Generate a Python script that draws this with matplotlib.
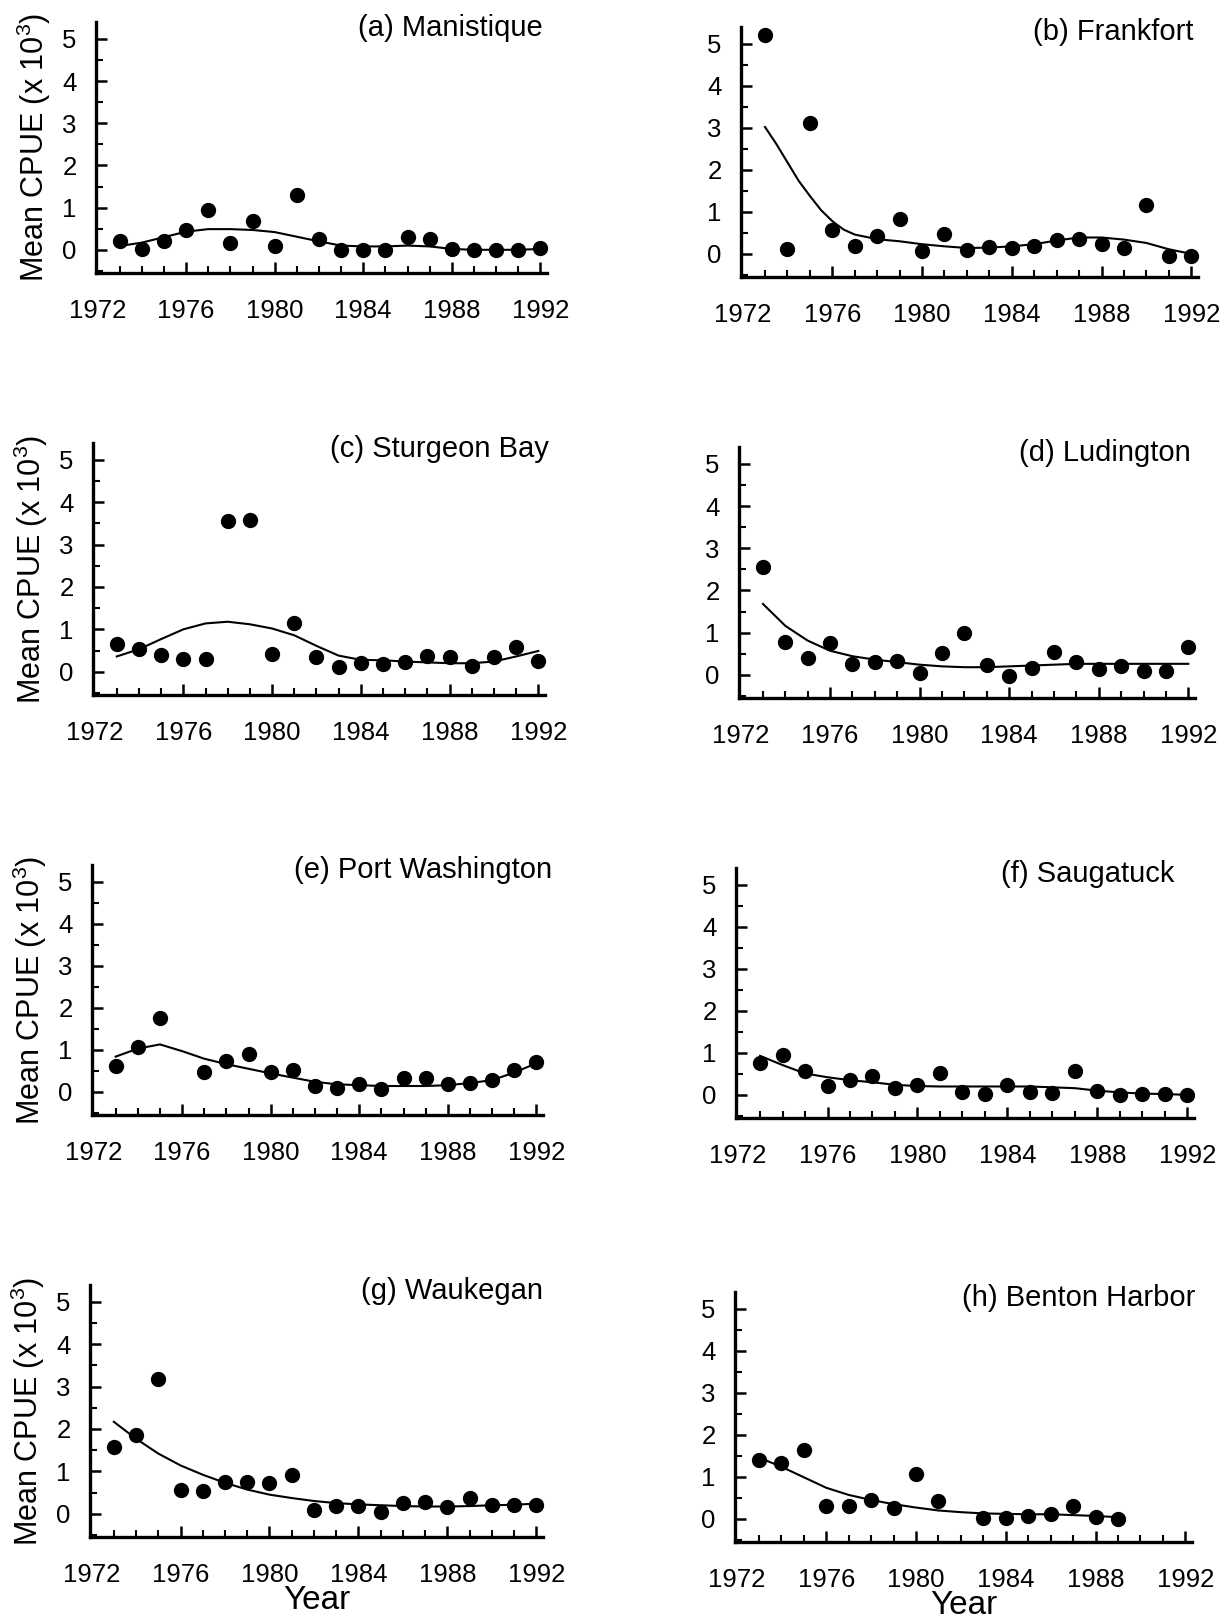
import matplotlib
matplotlib.use("Agg")
import matplotlib.pyplot as plt
from matplotlib.ticker import MultipleLocator, FixedLocator

plt.rcParams['font.family'] = ['Liberation Sans', 'DejaVu Sans']
plt.rcParams['mathtext.fontset'] = 'custom'
plt.rcParams['mathtext.rm'] = 'Liberation Sans'
plt.rcParams['mathtext.it'] = 'Liberation Sans:italic'
plt.rcParams['mathtext.bf'] = 'Liberation Sans:bold'

years = list(range(1973, 1993))

# ---- observed mean CPUE (x 10^3) ----
a_pts = [0.22, 0.02, 0.20, 0.47, 0.94, 0.16, 0.69, 0.09, 1.31, 0.25,
         0.00, 0.00, 0.00, 0.30, 0.25, 0.03, 0.00, 0.00, 0.00, 0.04]
b_pts = [5.20, 0.11, 3.11, 0.56, 0.18, 0.43, 0.82, 0.06, 0.47, 0.10,
         0.16, 0.14, 0.18, 0.34, 0.35, 0.23, 0.15, 1.16, -0.05, -0.04]
c_pts = [0.65, 0.53, 0.40, 0.30, 0.30, 3.55, 3.59, 0.41, 1.16, 0.34,
         0.12, 0.20, 0.18, 0.22, 0.38, 0.34, 0.14, 0.34, 0.59, 0.26]
d_pts = [2.55, 0.77, 0.39, 0.75, 0.26, 0.31, 0.32, 0.04, 0.51, 1.00,
         0.24, -0.02, 0.16, 0.55, 0.31, 0.13, 0.22, 0.10, 0.09, 0.65]
e_years = [1973, 1974, 1975, 1977, 1978, 1979, 1980, 1981, 1982, 1983,
           1984, 1985, 1986, 1987, 1988, 1989, 1990, 1991, 1992]
e_pts = [0.62, 1.07, 1.75, 0.47, 0.73, 0.89, 0.47, 0.51, 0.14, 0.09,
         0.18, 0.08, 0.34, 0.32, 0.18, 0.22, 0.28, 0.52, 0.71]
f_pts = [0.77, 0.96, 0.57, 0.22, 0.35, 0.46, 0.16, 0.24, 0.53, 0.08,
         0.02, 0.24, 0.08, 0.04, 0.57, 0.09, 0.00, 0.02, 0.02, 0.00]
g_pts = [1.57, 1.85, 3.17, 0.55, 0.53, 0.75, 0.76, 0.73, 0.91, 0.09,
         0.18, 0.18, 0.04, 0.25, 0.28, 0.16, 0.37, 0.20, 0.20, 0.20]
h_years = [1973, 1974, 1975, 1976, 1977, 1978, 1979, 1980, 1981,
           1983, 1984, 1985, 1986, 1987, 1988, 1989]
h_pts = [1.40, 1.32, 1.63, 0.31, 0.31, 0.45, 0.27, 1.08, 0.43,
         0.02, 0.02, 0.08, 0.11, 0.31, 0.04, 0.00]

# ---- smoothed trend curves ----
a_fit = [0.09, 0.17, 0.30, 0.43, 0.49, 0.49, 0.47, 0.42, 0.31, 0.20,
         0.10, 0.08, 0.08, 0.10, 0.08, 0.02, 0.00, 0.00, 0.00, 0.02]
b_fit_years = [1973, 1973.5, 1974, 1974.5, 1975, 1975.5, 1976, 1976.5, 1977,
               1978, 1979, 1980, 1981, 1982, 1983, 1984, 1985, 1986, 1987,
               1988, 1989, 1990, 1991, 1992]
b_fit = [3.02, 2.62, 2.18, 1.74, 1.38, 1.04, 0.78, 0.58, 0.46,
         0.35, 0.30, 0.23, 0.18, 0.14, 0.15, 0.18, 0.23, 0.32, 0.39,
         0.39, 0.34, 0.26, 0.11, 0.00]
c_fit = [0.36, 0.53, 0.77, 1.00, 1.14, 1.18, 1.12, 1.02, 0.86, 0.61,
         0.38, 0.28, 0.27, 0.24, 0.22, 0.20, 0.20, 0.24, 0.36, 0.49]
d_fit = [1.68, 1.16, 0.81, 0.57, 0.44, 0.36, 0.30, 0.24, 0.20, 0.18,
         0.18, 0.20, 0.22, 0.24, 0.26, 0.26, 0.26, 0.26, 0.26, 0.26]
e_fit = [0.84, 1.03, 1.13, 0.97, 0.79, 0.66, 0.55, 0.44, 0.34, 0.24,
         0.18, 0.16, 0.14, 0.14, 0.14, 0.16, 0.21, 0.28, 0.46, 0.68]
f_fit = [0.93, 0.71, 0.51, 0.42, 0.35, 0.30, 0.24, 0.21, 0.20, 0.20,
         0.20, 0.20, 0.20, 0.18, 0.16, 0.10, 0.06, 0.03, 0.02, 0.00]
g_fit = [2.17, 1.77, 1.42, 1.14, 0.92, 0.73, 0.57, 0.45, 0.37, 0.30,
         0.25, 0.22, 0.20, 0.18, 0.17, 0.17, 0.18, 0.20, 0.21, 0.24]
h_fit_years = list(range(1973, 1990))
h_fit = [1.46, 1.24, 0.99, 0.74, 0.57, 0.45, 0.35, 0.27, 0.20, 0.16,
         0.13, 0.12, 0.11, 0.11, 0.09, 0.07, 0.04]

titles = ['(a) Manistique', '(b) Frankfort', '(c) Sturgeon Bay', '(d) Ludington',
          '(e) Port Washington', '(f) Saugatuck', '(g) Waukegan', '(h) Benton Harbor']

xtick_labels = [1972, 1976, 1980, 1984, 1988, 1992]
ytick_labels = [0, 1, 2, 3, 4, 5]

panels = [
    (years, a_pts, years, a_fit),
    (years, b_pts, b_fit_years, b_fit),
    (years, c_pts, years, c_fit),
    (years, d_pts, years, d_fit),
    (e_years, e_pts, years, e_fit),
    (years, f_pts, years, f_fit),
    (years, g_pts, years, g_fit),
    (h_years, h_pts, h_fit_years, h_fit),
]

W, H = 1223, 1618
# pixel boxes: left, right, top, bottom
boxes = [(96, 547, 22, 273), (741, 1198, 27, 277),
         (93, 545, 443, 695), (739, 1195, 447, 698),
         (92, 543, 865, 1115), (736, 1194, 868, 1118),
         (90, 543, 1285, 1537), (735, 1192, 1292, 1542)]
title_x = [0.991, 0.991, 1.009, 0.99, 1.021, 0.958, 1.0, 1.008]

fig = plt.figure(figsize=(W / 100, H / 100), dpi=100)

for i, ((px, py, fx, fy), box) in enumerate(zip(panels, boxes)):
    l, r, t, b = box
    ax = fig.add_axes([l / W, 1 - b / H, (r - l) / W, (b - t) / H])
    ax.plot(fx, fy, color='black', lw=1.5, zorder=2)
    ax.plot(px, py, 'o', color='black', ms=10, zorder=3, clip_on=False)
    ax.set_xlim(1971.93, 1992.3)
    ax.set_ylim(-0.55, 5.4)
    for s in ['top', 'right']:
        ax.spines[s].set_visible(False)
    for s in ['left', 'bottom']:
        ax.spines[s].set_linewidth(2.4)
    ax.xaxis.set_major_locator(FixedLocator(xtick_labels))
    ax.xaxis.set_minor_locator(FixedLocator(years))
    ax.set_xticklabels([str(v) for v in xtick_labels])
    ax.yaxis.set_major_locator(FixedLocator(ytick_labels))
    ax.yaxis.set_minor_locator(MultipleLocator(0.5))
    ax.set_yticklabels([str(v) for v in ytick_labels])
    ax.tick_params(axis='x', which='major', direction='in', length=8, width=1.8,
                   labelsize=18.5, pad=19)
    ax.tick_params(axis='x', which='minor', direction='in', length=5, width=1.5)
    ax.tick_params(axis='y', which='major', direction='in', length=8, width=1.8,
                   labelsize=18.5, pad=14)
    ax.tick_params(axis='y', which='minor', direction='in', length=5, width=1.5)
    ax.xaxis.get_major_ticks()[0].tick1line.set_visible(False)
    ax.text(title_x[i], 0.978, titles[i], transform=ax.transAxes,
            ha='right', va='center', fontsize=21)
    if i % 2 == 0:
        ax.set_ylabel('Mean CPUE (x 10$^{3}$)', fontsize=22)
        ax.yaxis.set_label_coords(-0.095, 0.5)
    if i >= 6:
        ax.set_xlabel('Year', fontsize=24)
        ax.xaxis.set_label_coords(0.5, -0.19)

fig.savefig('out.png', dpi=100)
